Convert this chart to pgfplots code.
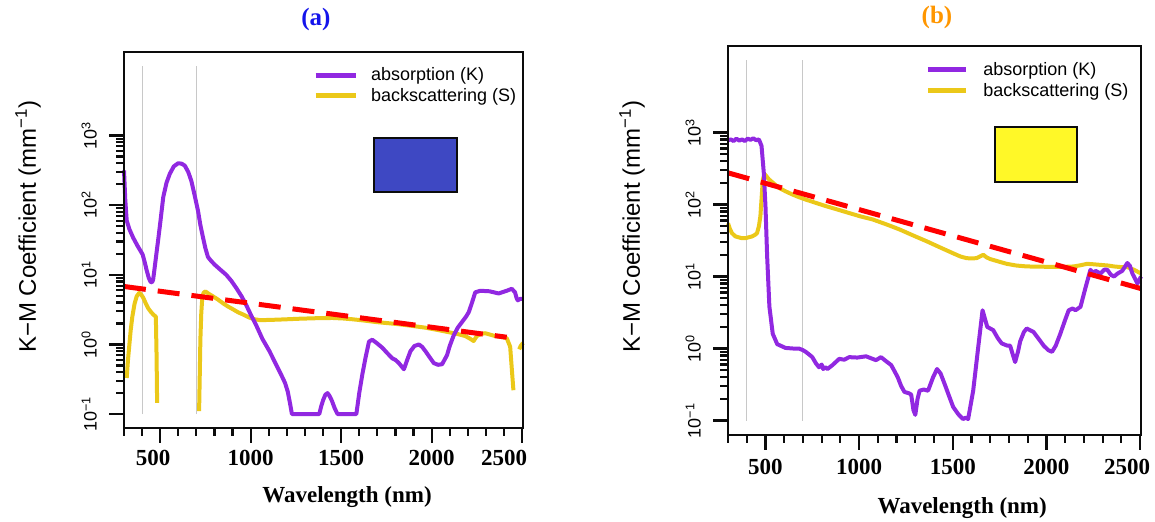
\documentclass[border=0pt]{standalone}
\usepackage{pgfplots}
\pgfplotsset{compat=1.18}
\usepackage{fontspec}
\setmainfont{Liberation Sans}
\newfontfamily\serifb{Liberation Serif}
\definecolor{kpurple}{RGB}{145,40,225}
\definecolor{syellow}{RGB}{235,200,25}
\definecolor{swblue}{RGB}{62,72,195}
\definecolor{swyellow}{RGB}{255,248,40}
\definecolor{tblue}{RGB}{20,20,235}
\definecolor{torange}{RGB}{255,150,0}
\definecolor{vgrey}{RGB}{200,200,200}
\definecolor{axblack}{RGB}{12,12,12}
\tikzset{
  kline/.style={kpurple, line width=4bp, line join=round},
  sline/.style={syellow, line width=4bp, line join=round},
  rline/.style={red, line width=5bp, dash pattern=on 22bp off 12bp},
  tk/.style={draw=axblack, line width=2.2bp},
}

\begin{document}
\begin{tikzpicture}
\path (0,0) rectangle (1155bp,522bp);

% ---------------- panel (a) ----------------
\begin{semilogyaxis}[
  scale only axis,
  clip=false,
  at={(124bp,94bp)}, anchor=south west,
  width=399bp, height=376bp,
  xmin=300, xmax=2505,
  ymin=0.0631, ymax=15849,
  axis line style={draw=axblack},
  every tick/.append style={draw=axblack},
  tick align=outside,
  xtick pos=bottom, ytick pos=left,
  major tick length=15bp,
  minor tick length=8bp,
  xtick={500,1000,1500,2000,2500},
  xticklabels={\hspace*{-14bp}500,1000,1500,2000,\hspace*{-36bp}2500},
  minor xtick={300,400,600,700,800,900,1100,1200,1300,1400,1600,1700,1800,1900,2100,2200,2300,2400},
  ytick={0.1,1,10,100,1000},
  yticklabels={10\textsuperscript{−1},10\textsuperscript{0},10\textsuperscript{1},10\textsuperscript{2},10\textsuperscript{3}},
  minor ytick={0.2,0.3,0.4,0.5,0.6,0.7,0.8,0.9,2,3,4,5,6,7,8,9,20,30,40,50,60,70,80,90,200,300,400,500,600,700,800,900},
  xticklabel style={font=\serifb\bfseries\fontsize{23bp}{23bp}\selectfont, yshift=-4bp},
  yticklabel style={rotate=90, anchor=south, inner sep=12bp, font=\fontsize{18bp}{18bp}\selectfont},
  xlabel={Wavelength (nm)},
  ylabel={K−M Coefficient (mm\textsuperscript{−1})},
  title={\color{tblue}(a)},
  title style={font=\serifb\bfseries\fontsize{25bp}{25bp}\selectfont, anchor=center, at={(0.481,1.0718)}},
  xlabel style={font=\serifb\bfseries\fontsize{23bp}{23bp}\selectfont, anchor=center, at={(0.559,-0.1835)}},
  ylabel style={font=\fontsize{24bp}{24bp}\selectfont, anchor=center, at={(-0.2406,0.535)}},
  legend cell align=left,
  legend style={draw=none, fill=none, anchor=north west, at={(0.466,0.969)},
      font=\fontsize{18bp}{21bp}\selectfont, row sep=2bp,
      /tikz/every odd column/.append style={column sep=11bp}},
  legend image code/.code={\draw[#1, line width=5bp] (0bp,0bp) -- (40bp,0bp);},
]
\addlegendimage{kpurple}
\addlegendentry{absorption (K)}
\addlegendimage{syellow}
\addlegendentry{backscattering (S)}

\addplot[vgrey, line width=1bp, forget plot] coordinates {(400,0.1) (400,10000)};
\addplot[vgrey, line width=1bp, forget plot] coordinates {(700,0.1) (700,10000)};

\addplot[sline, forget plot] coordinates {
(315,0.33) (322,0.6) (329,0.95) (337,1.6) (346,2.5) (358,3.8) (370,4.9) (384,5.5)
(395,5.2) (406,4.7) (420,3.9) (434,3.3) (448,2.95) (461,2.7) (476,2.5) (480,0.68) (483,0.145)
};
\addplot[sline, forget plot] coordinates {
(715,0.11) (719,0.4) (722,1.15) (727,2.8) (733,4.9) (741,5.6) (751,5.75) (770,5.3) (792,4.9)
(820,4.4) (847,3.9) (875,3.5) (902,3.2) (930,2.9) (957,2.7) (990,2.45) (1021,2.3)
(1050,2.24) (1076,2.24) (1150,2.27) (1269,2.34) (1360,2.38) (1452,2.4) (1510,2.36) (1562,2.3)
(1630,2.2) (1691,2.1) (1760,2.02) (1819,1.95) (1890,1.85) (1966,1.74) (2030,1.62) (2094,1.5)
(2140,1.42) (2186,1.32) (2210,1.22) (2232,1.12) (2250,1.32) (2275,1.42) (2296,1.45)
(2325,1.38) (2351,1.32) (2385,1.28) (2415,1.23) (2434,0.93) (2443,0.45) (2452,0.22)
};
\addplot[sline, forget plot] coordinates {(2484,0.85) (2492,0.95) (2505,1.05)};

\addplot[kline, forget plot] coordinates {
(300,316) (307,120) (315,60) (330,45) (351,34) (375,26) (403,19.6) (415,15) (425,11.7)
(437,9) (447,7.9) (455,7.8) (461,8.5) (470,13) (480,21) (489,32) (500,55) (517,131)
(535,210) (553,282) (575,360) (599,400) (618,395) (636,370) (655,300) (672,224) (690,140)
(709,83) (722,52) (737,34) (750,24) (764,18) (780,16) (801,14) (830,12) (865,10)
(893,8.2) (920,6.5) (950,4.9) (975,3.7) (1000,2.7) (1030,1.9) (1065,1.2) (1104,0.8)
(1135,0.55) (1168,0.37) (1190,0.28) (1205,0.21) (1218,0.14) (1228,0.1) (1379,0.1)
(1390,0.13) (1401,0.16) (1413,0.19) (1425,0.2) (1437,0.18) (1449,0.155) (1465,0.12)
(1480,0.1) (1584,0.1) (1600,0.2) (1617,0.37) (1635,0.65) (1654,1.1) (1672,1.17)
(1700,1.03) (1727,0.9) (1755,0.75) (1783,0.63) (1800,0.6) (1819,0.54) (1847,0.44)
(1865,0.6) (1883,0.8) (1905,0.95) (1930,1.0) (1948,0.92) (1966,0.8) (1990,0.65)
(2012,0.54) (2035,0.51) (2058,0.52) (2085,0.7) (2100,0.95) (2122,1.35) (2145,1.75)
(2168,2.1) (2190,2.5) (2205,2.9) (2222,3.9) (2241,5.6) (2269,5.9) (2320,5.8) (2370,5.4)
(2415,5.9) (2443,6.3) (2461,5.6) (2470,4.6) (2476,4.3) (2489,4.5) (2505,4.5)
};

\addplot[rline, forget plot] coordinates {(300,6.8) (2415,1.27)};

\draw[draw=axblack, line width=2bp, fill=swblue] (rel axis cs:0.627,0.628) rectangle (rel axis cs:0.835,0.771);

% frame and ticks
\pgfplotsinvokeforeach{500,1000,1500,2000,2500}{\draw[tk] (axis cs:#1,0.0631) -- ++(0pt,-15bp);}
\pgfplotsinvokeforeach{300,400,600,700,800,900,1100,1200,1300,1400,1600,1700,1800,1900,2100,2200,2300,2400}{\draw[tk] (axis cs:#1,0.0631) -- ++(0pt,-8bp);}
\pgfplotsinvokeforeach{0.1,1,10,100,1000}{\draw[tk] (axis cs:300,#1) -- ++(-15bp,0pt);}
\pgfplotsinvokeforeach{0.2,0.3,0.4,0.5,0.6,0.7,0.8,0.9,2,3,4,5,6,7,8,9,20,30,40,50,60,70,80,90,200,300,400,500,600,700,800,900}{\draw[tk] (axis cs:300,#1) -- ++(-8bp,0pt);}
\draw[draw=axblack, line width=2.8bp, fill=none] (rel axis cs:0,0) rectangle (rel axis cs:1,1);
\end{semilogyaxis}

% ---------------- panel (b) ----------------
\begin{semilogyaxis}[
  scale only axis,
  clip=false,
  at={(728bp,87bp)}, anchor=south west,
  width=413bp, height=389bp,
  xmin=300, xmax=2505,
  ymin=0.0631, ymax=15849,
  axis line style={draw=axblack},
  every tick/.append style={draw=axblack},
  tick align=outside,
  xtick pos=bottom, ytick pos=left,
  major tick length=15bp,
  minor tick length=8bp,
  xtick={500,1000,1500,2000,2500},
  xticklabels={500,1000,1500,2000,\hspace*{-26bp}2500},
  minor xtick={300,400,600,700,800,900,1100,1200,1300,1400,1600,1700,1800,1900,2100,2200,2300,2400},
  ytick={0.1,1,10,100,1000},
  yticklabels={10\textsuperscript{−1},10\textsuperscript{0},10\textsuperscript{1},10\textsuperscript{2},10\textsuperscript{3}},
  minor ytick={0.2,0.3,0.4,0.5,0.6,0.7,0.8,0.9,2,3,4,5,6,7,8,9,20,30,40,50,60,70,80,90,200,300,400,500,600,700,800,900},
  xticklabel style={font=\serifb\bfseries\fontsize{23bp}{23bp}\selectfont, yshift=-6bp},
  yticklabel style={rotate=90, anchor=south, inner sep=12bp, font=\fontsize{18bp}{18bp}\selectfont},
  xlabel={Wavelength (nm)},
  ylabel={K−M Coefficient (mm\textsuperscript{−1})},
  title={\color{torange}(b)},
  title style={font=\serifb\bfseries\fontsize{25bp}{25bp}\selectfont, anchor=center, at={(0.506,1.059)}},
  xlabel style={font=\serifb\bfseries\fontsize{23bp}{23bp}\selectfont, anchor=center, at={(0.567,-0.1877)}},
  ylabel style={font=\fontsize{24bp}{24bp}\selectfont, anchor=center, at={(-0.2324,0.535)}},
  legend cell align=left,
  legend style={draw=none, fill=none, anchor=north west, at={(0.470,0.968)},
      font=\fontsize{18bp}{21bp}\selectfont, row sep=2bp,
      /tikz/every odd column/.append style={column sep=13bp}},
  legend image code/.code={\draw[#1, line width=5bp] (0bp,0bp) -- (38bp,0bp);},
]
\addlegendimage{kpurple}
\addlegendentry{absorption (K)}
\addlegendimage{syellow}
\addlegendentry{backscattering (S)}

\addplot[vgrey, line width=1bp, forget plot] coordinates {(400,0.1) (400,10000)};
\addplot[vgrey, line width=1bp, forget plot] coordinates {(700,0.1) (700,10000)};

\addplot[sline, forget plot] coordinates {
(300,55) (310,46) (321,40) (340,36) (357,35) (375,34) (392,34) (410,35) (428,36) (445,38)
(455,40) (465,50) (473,69) (480,130) (486,224) (496,263) (506,245) (518,224) (545,195)
(572,170) (608,152) (643,138) (680,126) (715,117) (770,105) (822,95) (885,85) (947,76)
(1010,68) (1072,62) (1145,53) (1216,45) (1290,37) (1359,31) (1430,25.5) (1502,21)
(1540,19) (1573,18) (1600,17.8) (1627,18) (1645,19) (1663,20) (1680,18.5) (1699,17.5)
(1750,16) (1788,15) (1840,14.2) (1895,13.8) (1960,13.7) (2038,13.6) (2090,13.6)
(2146,13.8) (2180,14.3) (2217,15) (2250,14.8) (2289,14.5) (2330,14.2) (2361,13.8)
(2400,13.5) (2432,13.5) (2468,12.4) (2505,11)
};

\addplot[kline, forget plot] coordinates {
(300,780) (315,800) (330,760) (345,820) (360,770) (375,800) (390,760) (405,820) (420,790)
(435,830) (450,780) (465,800) (479,650) (491,277) (500,95) (509,19) (521,3.8) (539,1.6)
(563,1.15) (607,1.02) (650,1.0) (679,1.0) (700,0.95) (715,0.9) (735,0.82) (750,0.76)
(770,0.62) (786,0.55) (800,0.6) (808,0.52) (820,0.55) (831,0.52) (858,0.59) (894,0.72)
(920,0.7) (947,0.76) (990,0.75) (1037,0.78) (1060,0.74) (1090,0.69) (1117,0.76)
(1140,0.68) (1171,0.59) (1190,0.48) (1206,0.4) (1225,0.3) (1242,0.25) (1265,0.24)
(1278,0.23) (1290,0.14) (1300,0.12) (1312,0.2) (1323,0.26) (1345,0.27) (1368,0.26)
(1395,0.4) (1416,0.52) (1435,0.45) (1457,0.32) (1480,0.22) (1502,0.155) (1529,0.123)
(1555,0.105) (1570,0.11) (1582,0.105) (1609,0.26) (1636,1.05) (1659,3.4) (1684,2.0)
(1716,1.8) (1740,1.4) (1761,1.18) (1790,1.1) (1806,1.1) (1822,0.8) (1833,0.65)
(1848,0.9) (1860,1.26) (1880,1.7) (1895,1.9) (1931,1.7) (1960,1.35) (1985,1.1)
(2010,0.95) (2030,0.9) (2050,1.1) (2074,1.6) (2100,2.5) (2119,3.4) (2140,3.6)
(2155,3.4) (2182,3.8) (2208,6.9) (2235,12.4) (2250,11) (2262,12) (2289,11) (2310,12.5)
(2325,12.4) (2345,10.5) (2361,10) (2380,11) (2405,12) (2432,15.4) (2446,14) (2459,11)
(2486,8) (2505,10)
};

\addplot[rline, forget plot] coordinates {(300,275) (2505,6.8)};

\draw[draw=axblack, line width=2bp, fill=swyellow] (rel axis cs:0.646,0.650) rectangle (rel axis cs:0.845,0.792);

% frame and ticks
\pgfplotsinvokeforeach{500,1000,1500,2000,2500}{\draw[tk] (axis cs:#1,0.0631) -- ++(0pt,-15bp);}
\pgfplotsinvokeforeach{300,400,600,700,800,900,1100,1200,1300,1400,1600,1700,1800,1900,2100,2200,2300,2400}{\draw[tk] (axis cs:#1,0.0631) -- ++(0pt,-8bp);}
\pgfplotsinvokeforeach{0.1,1,10,100,1000}{\draw[tk] (axis cs:300,#1) -- ++(-15bp,0pt);}
\pgfplotsinvokeforeach{0.2,0.3,0.4,0.5,0.6,0.7,0.8,0.9,2,3,4,5,6,7,8,9,20,30,40,50,60,70,80,90,200,300,400,500,600,700,800,900}{\draw[tk] (axis cs:300,#1) -- ++(-8bp,0pt);}
\draw[draw=axblack, line width=2.8bp, fill=none] (rel axis cs:0,0) rectangle (rel axis cs:1,1);
\end{semilogyaxis}
\end{tikzpicture}
\end{document}
